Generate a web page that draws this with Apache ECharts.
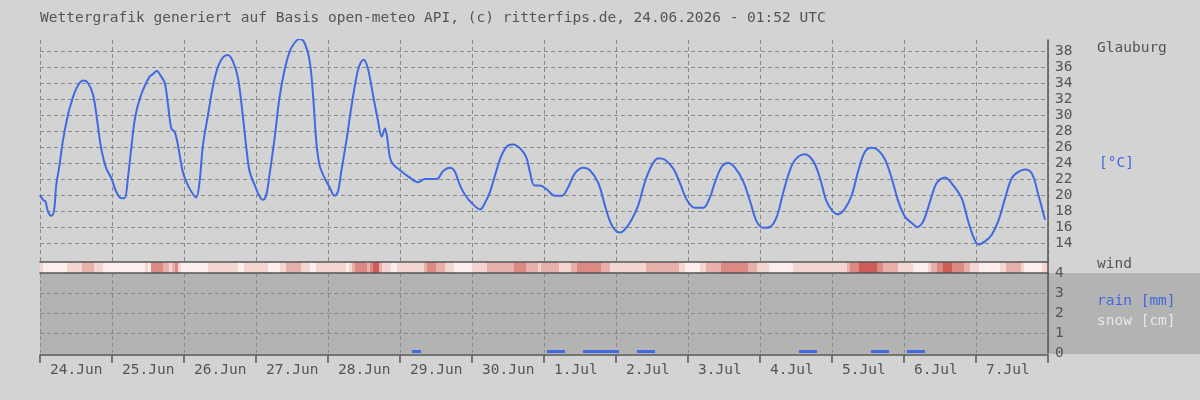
<!DOCTYPE html>
<html><head><meta charset="utf-8">
<script src="https://cdn.jsdelivr.net/npm/echarts@6/dist/echarts.min.js"></script>
<style>html,body{margin:0;padding:0;background:#d3d3d3}#c{width:1200px;height:400px}</style>
</head><body><div id="c"></div>
<script>
// ---- data ----
const dayLabels = ['24.Jun','25.Jun','26.Jun','27.Jun','28.Jun','29.Jun','30.Jun','1.Jul','2.Jul','3.Jul','4.Jul','5.Jul','6.Jul','7.Jul'];
const tempTicks = [14,16,18,20,22,24,26,28,30,32,34,36,38];
const rainTicks = [0,1,2,3,4];
const rainGridTicks = [1,2,3];
// [hour since 24.Jun 00:00, °C]
const temperature = [[0,20.0],[1,19.4],[1.8,19.2],[2.7,17.9],[3.8,17.4],[4.7,18.1],[5.4,21.2],[6.5,23.7],[7.6,26.7],[9.3,30.0],[10.4,31.5],[12.1,33.3],[14.3,34.3],[16,34.0],[17.7,32.5],[19.1,29.2],[20.4,25.8],[22.1,23.3],[23.8,22.1],[25.4,20.4],[27.1,19.6],[28.2,19.6],[29.3,22.1],[30.4,25.8],[31.5,29.2],[32.6,31.2],[34.3,33.1],[36.5,34.8],[37.6,35.1],[38.9,35.5],[40.4,34.8],[41.6,34.0],[42.7,31.2],[43.8,28.3],[44.9,27.9],[46,26.2],[47.6,22.9],[49.3,21.2],[51,20.1],[52.1,19.7],[53.2,21.7],[54.3,26.2],[56,30.0],[57.7,33.7],[59.3,36.0],[61,37.2],[62.6,37.5],[64.3,36.7],[66,34.6],[67.7,29.6],[68.8,25.8],[69.9,22.9],[71.6,21.2],[73.2,19.8],[74.3,19.4],[75.4,20.0],[76.5,22.5],[78.2,27.1],[79.8,32.1],[81.5,35.6],[83.2,37.9],[84.8,39.0],[86.5,39.5],[88.2,39.0],[89.9,36.7],[91,32.5],[92.1,26.7],[93.2,23.7],[94.9,22.1],[96.5,21.0],[98.2,19.9],[99.3,20.4],[100.4,22.9],[102.1,26.7],[103.7,30.8],[105.4,34.6],[106.5,36.2],[107.9,36.9],[109.3,35.8],[111,32.5],[112.6,29.4],[113.9,27.3],[115,28.3],[115.6,27.5],[116.7,24.6],[117.8,23.8],[120,23.1],[122.8,22.3],[126.1,21.6],[128.3,22.0],[132.2,22.0],[134.4,23.0],[136.7,23.4],[138.3,22.9],[140,21.2],[141.7,20.0],[143.9,19.0],[146.7,18.2],[148.3,19.0],[150,20.4],[151.7,22.5],[153.9,25.0],[156.1,26.2],[157.8,26.3],[160.6,25.6],[162.2,24.6],[163.3,22.9],[164.8,21.2],[166.7,21.2],[168.9,20.7],[171.7,19.9],[173.9,19.9],[176.1,21.0],[178.3,22.7],[181.1,23.4],[183.3,23.1],[186.1,21.5],[188.3,18.7],[190,16.7],[191.7,15.6],[193.3,15.3],[195,15.7],[197.2,16.9],[199.4,18.7],[201.7,21.7],[203.9,23.7],[206.1,24.6],[208.3,24.4],[211.1,23.3],[213.3,21.5],[215.6,19.4],[218.3,18.4],[221.1,18.4],[223.3,19.7],[225,21.6],[227.2,23.5],[229.4,24.0],[231.7,23.4],[234.4,21.7],[236.7,19.2],[238.9,16.7],[241.1,15.9],[243.3,16.0],[245.6,17.3],[247.8,20.4],[250.6,23.7],[252.8,24.8],[255,25.1],[257.8,24.2],[260,22.1],[262.2,19.2],[264.4,17.9],[266.1,17.6],[268.3,18.3],[270.6,20.0],[272.8,23.1],[275,25.4],[277.2,25.9],[279.4,25.6],[281.7,24.4],[283.9,22.1],[286.1,19.2],[288.3,17.3],[290.6,16.5],[292.4,16.0],[294.4,16.7],[296.7,19.2],[298.9,21.5],[301.7,22.2],[304.4,21.2],[307.2,19.6],[309.4,16.7],[311.1,14.8],[312.8,13.8],[315,14.2],[317.2,15.0],[319.4,16.7],[321.7,19.6],[323.9,22.1],[326.1,22.9],[328.3,23.2],[330.6,22.7],[332.8,20.0],[335,16.9]];
// [start hour, end hour, wind level 0..4]
const wind = [[0,1,1],[1,9,0],[9,14,1],[14,18,2],[18,21,1],[21,35,0],[35,36,1],[36,37,0],[37,41,3],[41,43,2],[43,44,1],[44,45,2],[45,46,3],[46,47,1],[47,56,0],[56,66,1],[66,68,0],[68,76,1],[76,80,0],[80,82,1],[82,87,2],[87,90,1],[90,92,0],[92,102,1],[102,103,0],[103,104,1],[104,105,2],[105,109,3],[109,110,2],[110,111,3],[111,113,4],[113,114,2],[114,117,1],[117,119,0],[119,128,1],[128,129,2],[129,132,3],[132,135,2],[135,138,1],[138,144,0],[144,149,1],[149,158,2],[158,162,3],[162,166,2],[166,167,1],[167,173,2],[173,177,1],[177,179,2],[179,187,3],[187,190,2],[190,202,1],[202,213,2],[213,215,1],[215,220,0],[220,222,1],[222,227,2],[227,236,3],[236,239,2],[239,243,1],[243,251,0],[251,269,1],[269,270,2],[270,273,3],[273,279,4],[279,281,3],[281,286,2],[286,291,1],[291,296,0],[296,297,1],[297,299,2],[299,301,3],[301,304,4],[304,308,3],[308,310,2],[310,313,1],[313,320,0],[320,322,1],[322,327,2],[327,328,1],[328,334,0],[334,336,1]];
// [start hour, end hour, mm]
const rain = [[124,127,0.15],[169,175,0.15],[181,193,0.15],[199,205,0.15],[253,259,0.15],[277,283,0.15],[289,295,0.15]];

// ---- style ----
const windColors = ['#fbeeec','#f3d5d2','#e7b0ab','#da8a83','#cd5d56'];
const FONT = '"DejaVu Sans Mono", "Liberation Mono", monospace';
const FS = 14.5;
const TXT = '#555555';
const BLUE = '#4169e1';
const dash = {color:'#8a8a8a', width:1, type:[4,3]};
const axLine = {show:true, onZero:false, lineStyle:{color:TXT, width:1.5}};
const gridBase = {left:40, width:1008, containLabel:false, outerBoundsMode:'none'};

const chart = echarts.init(document.getElementById('c'), null, {renderer:'canvas'});
chart.setOption({
  backgroundColor:'#d3d3d3',
  animation:false,
  textStyle:{fontFamily:FONT},
  grid:[
    Object.assign({top:40, height:222}, gridBase),
    Object.assign({top:262, height:11}, gridBase),
    Object.assign({top:273, height:80}, gridBase)
  ],
  xAxis:[
    {gridIndex:0, type:'value', min:0, max:336, interval:24, axisLine:{show:false}, axisTick:{show:false}, axisLabel:{show:false}, splitLine:{show:true, lineStyle:dash}},
    {gridIndex:1, type:'value', min:0, max:336, position:'bottom', z:5, axisLine:axLine, axisTick:{show:false}, axisLabel:{show:false}, splitLine:{show:false}},
    {gridIndex:1, type:'value', min:0, max:336, position:'top', z:5, axisLine:axLine, axisTick:{show:false}, axisLabel:{show:false}, splitLine:{show:false}},
    {gridIndex:2, type:'value', min:0, max:336, interval:24, position:'bottom', offset:2, axisLine:axLine,
      axisTick:{show:true, length:8, lineStyle:{color:TXT, width:1.5}},
      axisLabel:{show:true, color:TXT, fontSize:FS, fontFamily:FONT, align:'left', padding:[0,0,0,10], margin:8,
        formatter:v => dayLabels[Math.round(v/24)] || ''},
      splitLine:{show:true, lineStyle:dash}}
  ],
  yAxis:[
    {gridIndex:0, type:'value', min:11.625, max:39.375, position:'right', axisLine:axLine,
      axisTick:{show:false, customValues:tempTicks},
      axisLabel:{customValues:tempTicks, color:TXT, fontSize:FS, fontFamily:FONT, margin:7},
      splitLine:{show:true, lineStyle:dash}},
    {gridIndex:1, type:'value', min:0, max:1, position:'right', z:5, axisLine:axLine, axisTick:{show:false}, axisLabel:{show:false}, splitLine:{show:false}},
    {gridIndex:2, type:'value', min:0, max:4, position:'right', axisLine:axLine,
      axisTick:{show:false, customValues:rainGridTicks},
      axisLabel:{customValues:rainTicks, color:TXT, fontSize:FS, fontFamily:FONT, margin:7},
      splitLine:{show:true, lineStyle:dash}}
  ],
  series:[
    {type:'line', xAxisIndex:0, yAxisIndex:0, data:temperature, showSymbol:false, smooth:0.35,
      lineStyle:{color:BLUE, width:2}, itemStyle:{color:BLUE}, silent:true},
    {type:'custom', xAxisIndex:1, yAxisIndex:1, data:wind, encode:{x:[0,1]}, silent:true,
      renderItem:(p, api) => {
        const a = api.coord([api.value(0), 1]);
        const b = api.coord([api.value(1), 0]);
        return {type:'rect', shape:{x:a[0], y:a[1], width:b[0]-a[0], height:b[1]-a[1]}, style:{fill:windColors[api.value(2)]}};
      }},
    {type:'custom', xAxisIndex:3, yAxisIndex:2, data:rain, encode:{x:[0,1], y:2}, silent:true,
      renderItem:(p, api) => {
        const a = api.coord([api.value(0), 0]);
        const b = api.coord([api.value(1), api.value(2)]);
        return {type:'rect', shape:{x:a[0], y:b[1], width:b[0]-a[0], height:a[1]-b[1]}, style:{fill:BLUE}};
      }}
  ],
  graphic:[
    {type:'rect', z:-10, shape:{x:40, y:273, width:1160, height:81}, style:{fill:'#b3b3b3'}, silent:true},
    {type:'text', x:40, y:18.5, style:{text:'Wettergrafik generiert auf Basis open-meteo API, (c) ritterfips.de, 24.06.2026 - 01:52 UTC', fill:TXT, font:FS+'px '+FONT, verticalAlign:'middle'}},
    {type:'text', x:1097, y:48.5, style:{text:'Glauburg', fill:TXT, font:FS+'px '+FONT, verticalAlign:'middle'}},
    {type:'text', x:1099, y:163.5, style:{text:'[°C]', fill:BLUE, font:FS+'px '+FONT, verticalAlign:'middle'}},
    {type:'text', x:1097, y:264, style:{text:'wind', fill:TXT, font:FS+'px '+FONT, verticalAlign:'middle'}},
    {type:'text', x:1097, y:301, style:{text:'rain [mm]', fill:BLUE, font:FS+'px '+FONT, verticalAlign:'middle'}},
    {type:'text', x:1097, y:321, style:{text:'snow [cm]', fill:'#e6e6e6', font:FS+'px '+FONT, verticalAlign:'middle'}}
  ]
});
</script>
</body></html>
